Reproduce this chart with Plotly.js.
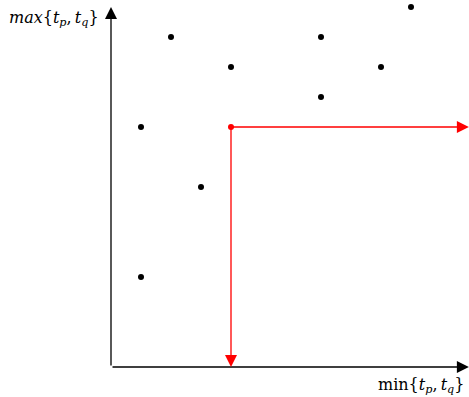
<!DOCTYPE html>
<html>
<head>
<meta charset="utf-8">
<script src="https://cdn.plot.ly/plotly-3.0.1.min.js"></script>
<style>html,body{margin:0;padding:0;background:#fff;}#chart{width:469px;height:397px;}</style>
</head>
<body>
<div id="chart"></div>
<script>
// Data points (min{tp,tq}, max{tp,tq})
const pointsX = [1, 1, 2, 3, 4, 7, 7, 9, 10];
const pointsY = [3, 8, 11, 6, 10, 11, 9, 10, 12];
// Highlighted point
const highlightX = [4];
const highlightY = [8];
// Axis extents
const xAxisEnd = 11.93;
const yAxisEnd = 12.0;
// Axis labels
const xLabel = 'min{<i>t</i><sub><i>p</i></sub>,\u2009<i>t</i><sub><i>q</i></sub>}';
const yLabel = '<i>max</i>{<i>t</i><sub><i>p</i></sub>,\u2009<i>t</i><sub><i>q</i></sub>}';

const traces = [
  {x: pointsX, y: pointsY, mode: 'markers', type: 'scatter',
   marker: {color: '#000', size: 6}, hoverinfo: 'skip'},
  {x: highlightX, y: highlightY, mode: 'markers', type: 'scatter',
   marker: {color: '#ff0000', size: 6}, hoverinfo: 'skip'}
];

function arrow(x0, y0, x1, y1, color, w) {
  return {x: x1, y: y1, ax: x0, ay: y0, xref: 'x', yref: 'y', axref: 'x', ayref: 'y',
    showarrow: true, arrowhead: 2, arrowsize: 1.85, arrowwidth: w, arrowcolor: color, text: ''};
}

const labelFont = {family: 'DejaVu Serif', size: 16, color: '#000'};

const annotations = [
  arrow(0, 0, xAxisEnd, 0, '#000', 1.3),
  arrow(0, 0, 0, yAxisEnd, '#000', 1.3),
  arrow(highlightX[0], highlightY[0], xAxisEnd, highlightY[0], '#ff0000', 1.3),
  arrow(highlightX[0], highlightY[0], highlightX[0], 0, '#ff0000', 1.3),
  {x: -0.33, y: 11.62, xref: 'x', yref: 'y', text: yLabel, showarrow: false,
   xanchor: 'right', yanchor: 'middle', font: labelFont},
  {x: 11.83, y: -0.6, xref: 'x', yref: 'y', text: xLabel, showarrow: false,
   xanchor: 'right', yanchor: 'middle', font: labelFont}
];

const layout = {
  width: 469, height: 397,
  margin: {l: 0, r: 0, t: 0, b: 0},
  paper_bgcolor: '#fff', plot_bgcolor: '#fff',
  showlegend: false,
  xaxis: {range: [-3.7, 11.9333], visible: false, fixedrange: true},
  yaxis: {range: [-1, 12.2333], visible: false, fixedrange: true},
  annotations: annotations
};

Plotly.newPlot('chart', traces, layout, {displayModeBar: false, staticPlot: true});
</script>
</body>
</html>
